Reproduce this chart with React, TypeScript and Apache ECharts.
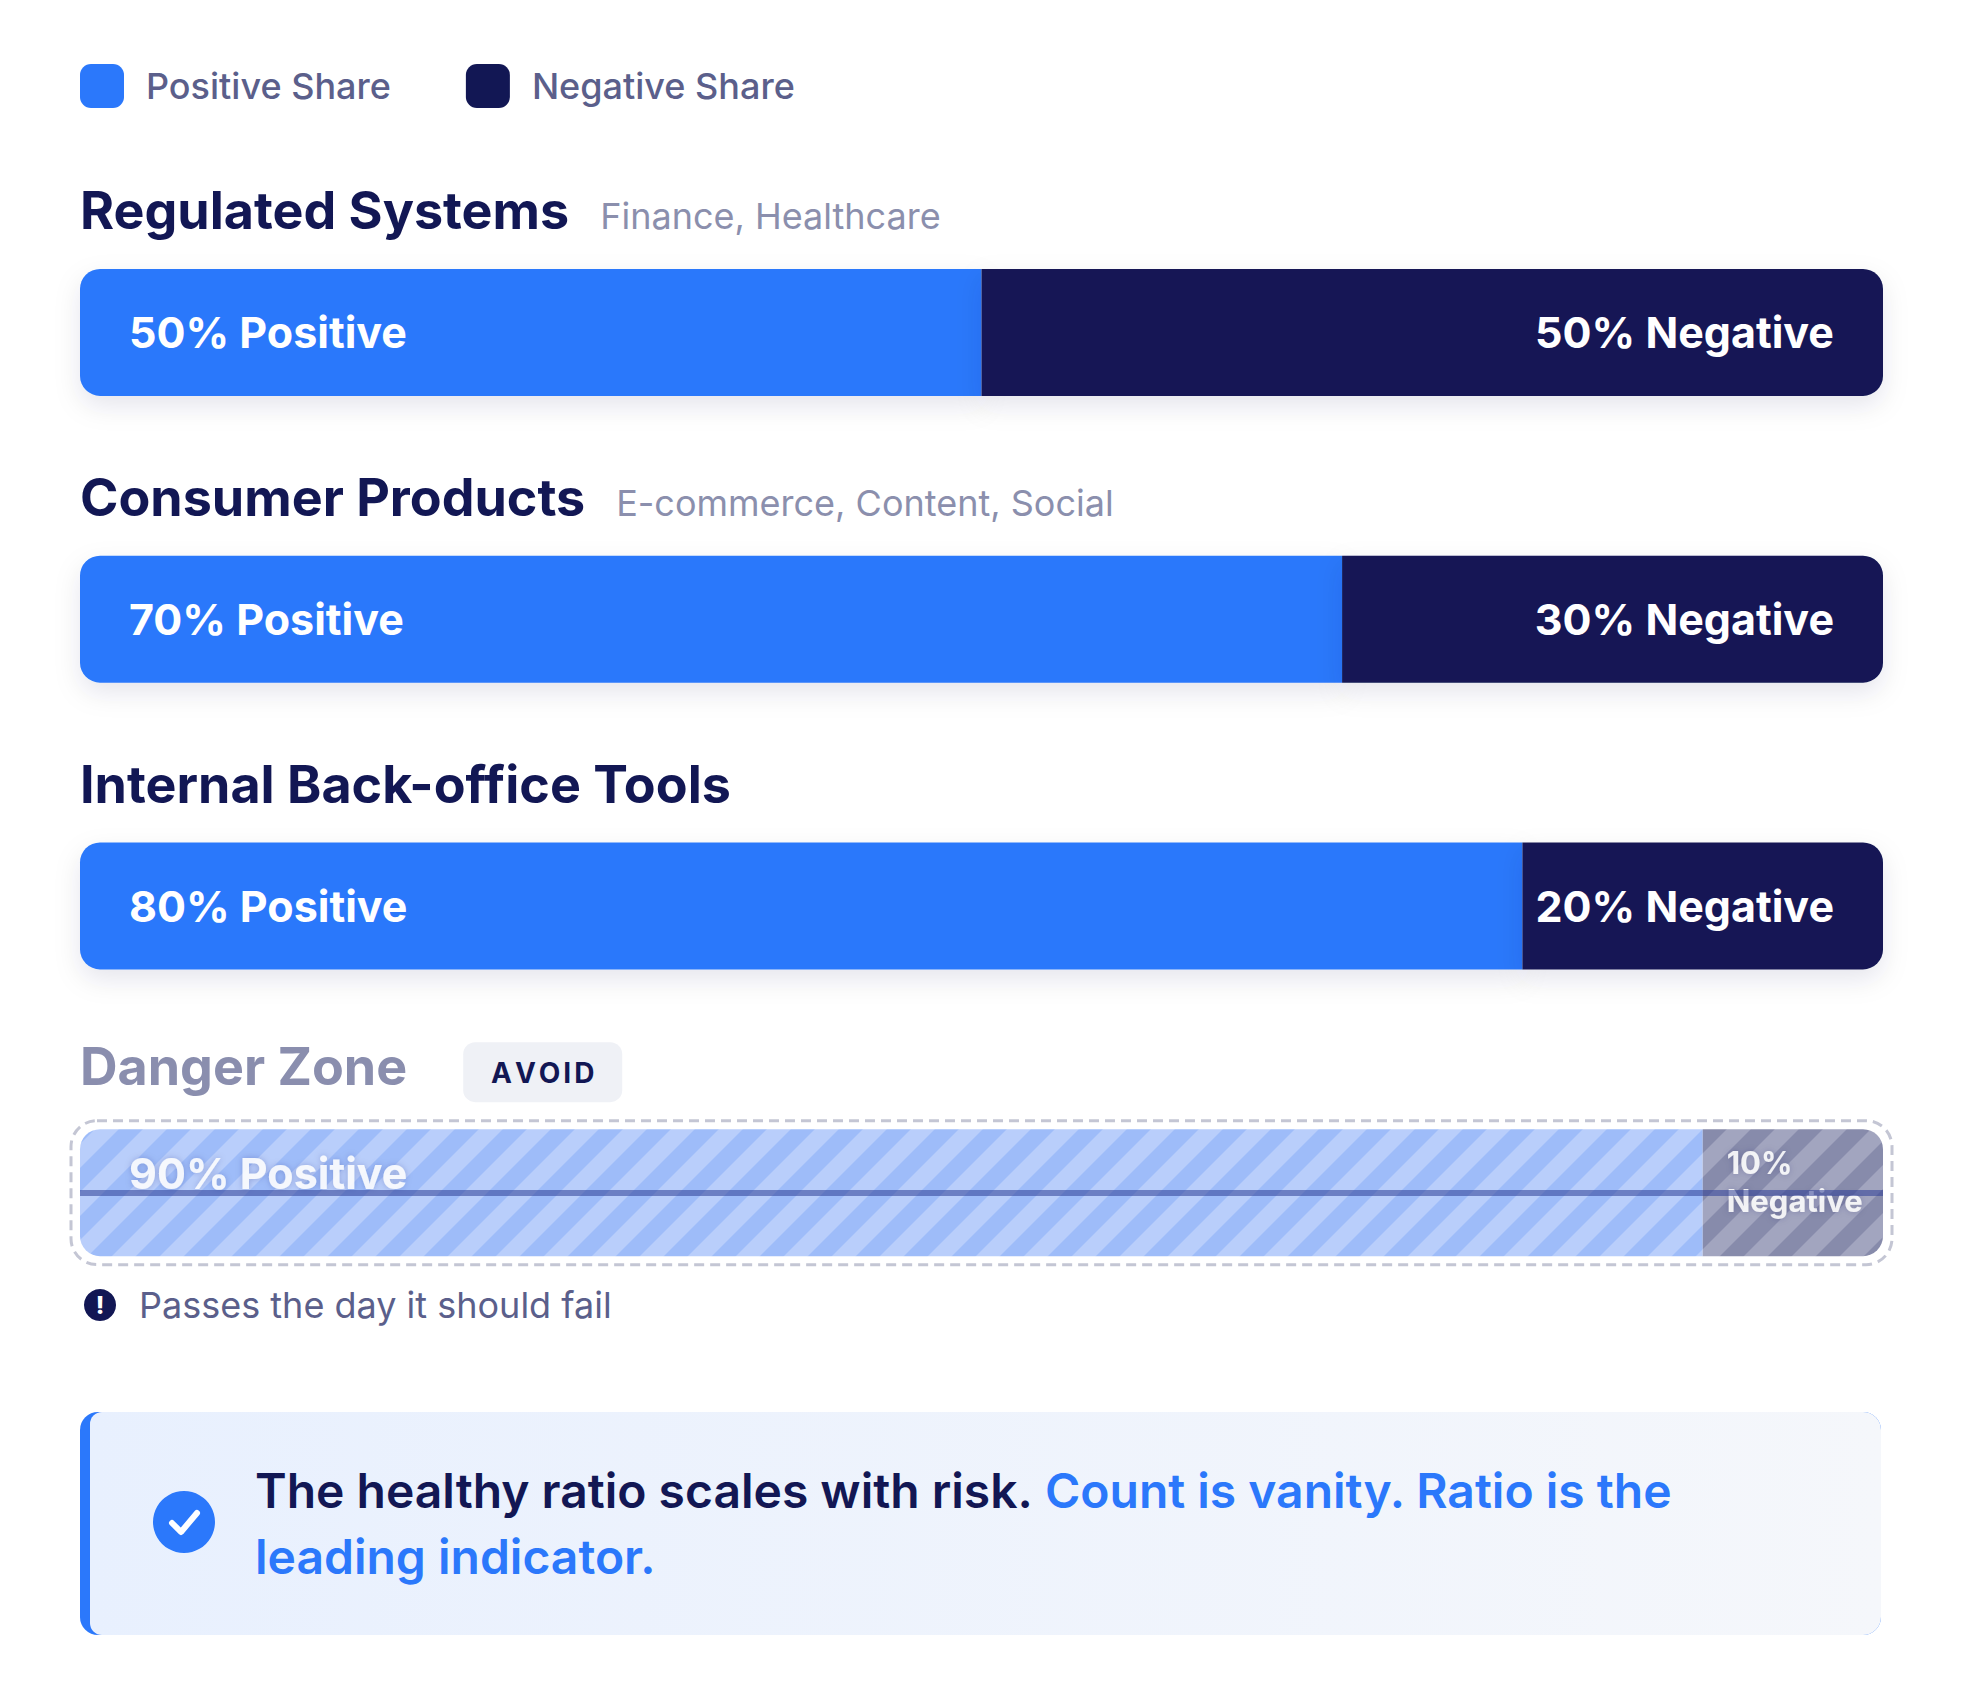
import * as echarts from 'echarts';
import { useEffect, useRef } from 'react';

const FONT = 'Inter, "Noto Sans", sans-serif';
const BLUE = '#2b78fb';
const NAVY = '#121754';

// 각 행: 카테고리 / 부제 / 비율
const categories = ['Regulated Systems', 'Consumer Products', 'Internal Back-office Tools', 'Danger Zone'];
const subtitles = ['Finance, Healthcare', 'E-commerce, Content, Social', '', ''];
const positiveShare = [50, 70, 80, 90];
const negativeShare = [50, 30, 20, 10];
const avoidRow = [false, false, false, true];
const seriesNames = ['Positive Share', 'Negative Share'];

// 사선 줄무늬 타일 (canvas pattern)
function stripePattern(base: string, stripe: string) {
  const P = 48;
  const c = document.createElement('canvas');
  c.width = P;
  c.height = P;
  const g = c.getContext('2d')!;
  g.fillStyle = base;
  g.fillRect(0, 0, P, P);
  g.fillStyle = stripe;
  g.beginPath();
  g.moveTo(0, 0);
  g.lineTo(P / 2, 0);
  g.lineTo(0, P / 2);
  g.closePath();
  g.fill();
  g.beginPath();
  g.moveTo(P, 0);
  g.lineTo(P, P / 2);
  g.lineTo(P / 2, P);
  g.lineTo(0, P);
  g.closePath();
  g.fill();
  return { image: c, repeat: 'repeat', imageWidth: P, imageHeight: P };
}

function measure(text: string, font: string) {
  const ctx = document.createElement('canvas').getContext('2d')!;
  ctx.font = font;
  return ctx.measureText(text).width;
}

export default function App() {
  const chartRef = useRef<HTMLDivElement>(null);

  useEffect(() => {
    if (!chartRef.current) return;
    const chart = echarts.init(chartRef.current, null, { renderer: 'svg' });

    const barShadow = { shadowColor: 'rgba(18, 23, 84, 0.10)', shadowBlur: 26, shadowOffsetY: 10 };
    const noShadow = { shadowColor: 'rgba(0,0,0,0)', shadowBlur: 0, shadowOffsetY: 0 };
    const fadedLabel = {
      color: 'rgba(255,255,255,0.88)',
      textShadowColor: 'rgba(20,30,90,0.25)',
      textShadowBlur: 6,
    };

    chart.setOption({
      animation: false,
      backgroundColor: '#ffffff',
      textStyle: { fontFamily: FONT },
      legend: {
        left: 80,
        top: 64,
        padding: 0,
        itemWidth: 44,
        itemHeight: 44,
        itemGap: 75,
        icon: 'roundRect',
        selectedMode: false,
        data: seriesNames,
        textStyle: { fontSize: 36, fontWeight: 500, color: '#5b5f8b', padding: [0, 0, 0, 17], fontFamily: FONT },
      },
      grid: { left: 80, right: 79, top: 189, bottom: 348 },
      xAxis: { type: 'value', min: 0, max: 100, show: false },
      yAxis: { type: 'category', inverse: true, data: categories, show: false },
      series: [
        {
          name: seriesNames[0],
          type: 'bar',
          stack: 'share',
          barWidth: 127,
          itemStyle: { color: BLUE, borderRadius: [20, 0, 0, 20], ...barShadow },
          label: {
            show: true,
            position: 'insideLeft',
            distance: 49,
            color: '#fff',
            fontSize: 43,
            fontWeight: 700,
            fontFamily: FONT,
            formatter: (p: any) => `${p.value}% Positive`,
          },
          data: positiveShare.map((v, i) =>
            avoidRow[i]
              ? {
                  value: v,
                  itemStyle: { color: stripePattern('#b9cefb', '#9ebcf9'), ...noShadow },
                  label: { ...fadedLabel, offset: [0, -20] },
                }
              : v
          ),
        },
        {
          name: seriesNames[1],
          type: 'bar',
          stack: 'share',
          barWidth: 127,
          itemStyle: { color: NAVY, borderRadius: [0, 20, 20, 0], ...barShadow },
          label: {
            show: true,
            position: 'insideRight',
            distance: 49,
            color: '#fff',
            fontSize: 43,
            fontWeight: 700,
            fontFamily: FONT,
            formatter: (p: any) => `${p.value}% Negative`,
          },
          data: negativeShare.map((v, i) =>
            avoidRow[i]
              ? {
                  value: v,
                  itemStyle: { color: stripePattern('#a2a5bf', '#878bab'), ...noShadow },
                  label: {
                    ...fadedLabel,
                    position: 'insideLeft',
                    distance: 24,
                    fontSize: 31,
                    lineHeight: 38,
                    width: 165,
                    overflow: 'break',
                    offset: [0, -11],
                  },
                }
              : v
          ),
          markLine: {
            silent: true,
            symbol: ['none', 'none'],
            label: { show: false },
            lineStyle: { color: 'rgba(45, 62, 150, 0.55)', width: 6, type: 'solid' },
            emphasis: { disabled: true },
            data: categories.filter((_, i) => avoidRow[i]).map((c) => ({ yAxis: c })),
          },
        },
      ],
    });

    // 제목·배지·주석은 축 좌표에서 위치를 얻어 graphic 으로 그림
    const titleFont = `700 52px Inter`;
    const graphics: any[] = [];
    categories.forEach((cat, i) => {
      const [x0, yc] = chart.convertToPixel({ gridIndex: 0 }, [0, cat]) as number[];
      const [x1] = chart.convertToPixel({ gridIndex: 0 }, [100, cat]) as number[];
      const danger = avoidRow[i];
      const ty = yc - (danger ? 126.5 : 121.5);
      const tw = measure(cat, titleFont);
      graphics.push({
        type: 'text',
        x: x0,
        y: ty,
        style: { text: cat, font: titleFont, fill: danger ? '#8a8eae' : NAVY, verticalAlign: 'middle' },
      });
      if (subtitles[i]) {
        graphics.push({
          type: 'text',
          x: x0 + tw + 31,
          y: ty + 5,
          style: { text: subtitles[i], font: `400 36px Inter`, fill: '#8b8fad', verticalAlign: 'middle' },
        });
      }
      if (danger) {
        const bx = x0 + tw + 56;
        graphics.push(
          { type: 'rect', shape: { x: bx, y: ty - 24, width: 159, height: 60, r: 12 }, style: { fill: '#eff1f6' } },
          {
            type: 'text',
            x: bx + 79.5,
            y: ty + 7,
            style: {
              text: 'AVOID'.split('').map((ch) => `{l|${ch}}`).join(''),
              align: 'center',
              verticalAlign: 'middle',
              rich: { l: { fontFamily: 'Inter', fontSize: 28, fontWeight: 700, fill: NAVY, color: NAVY, padding: [0, 1.5, 0, 1.5] } },
            },
          },
          {
            type: 'rect',
            z: -1,
            shape: { x: x0 - 9, y: yc - 72, width: x1 - x0 + 18, height: 144, r: 26 },
            style: { fill: 'none', stroke: '#c4c6d4', lineWidth: 3, lineDash: [10, 6] },
          },
          { type: 'circle', shape: { cx: x0 + 20, cy: yc + 112.5, r: 16 }, style: { fill: NAVY } },
          {
            type: 'text',
            x: x0 + 20,
            y: yc + 113,
            style: { text: '!', font: `800 24px Inter`, fill: '#fff', align: 'center', verticalAlign: 'middle' },
          },
          {
            type: 'text',
            x: x0 + 59,
            y: yc + 112.5,
            style: { text: 'Passes the day it should fail', font: `400 36px Inter`, fill: '#5b5f8b', verticalAlign: 'middle' },
          }
        );
      }
    });

    // 하단 안내 박스
    graphics.push(
      { type: 'rect', shape: { x: 80, y: 1412, width: 1801, height: 223, r: 18 }, style: { fill: BLUE } },
      {
        type: 'rect',
        shape: { x: 90, y: 1412, width: 1791, height: 223, r: [12, 18, 18, 12] },
        style: {
          fill: new echarts.graphic.LinearGradient(0, 0, 1, 0, [
            { offset: 0, color: '#e8f0fe' },
            { offset: 1, color: '#f5f7fb' },
          ]),
        },
      },
      { type: 'circle', shape: { cx: 184, cy: 1522, r: 31 }, style: { fill: BLUE } },
      {
        type: 'polyline',
        shape: { points: [[172, 1523], [181, 1532], [197, 1513]] },
        style: { stroke: '#fff', lineWidth: 6, lineCap: 'round', lineJoin: 'round', fill: 'none' },
      },
      {
        type: 'text',
        x: 255,
        y: 1457,
        style: {
          text: '{a|The healthy ratio scales with risk. }{b|Count is vanity. Ratio is the}\n{b|leading indicator.}',
          verticalAlign: 'top',
          rich: {
            a: { fontFamily: 'Inter', fontSize: 48, fontWeight: 600, lineHeight: 66, fill: NAVY, color: NAVY },
            b: { fontFamily: 'Inter', fontSize: 48, fontWeight: 600, lineHeight: 66, fill: BLUE, color: BLUE },
          },
        },
      }
    );

    chart.setOption({ graphic: graphics });

    return () => chart.dispose();
  }, []);

  return (
    <div
      ref={chartRef}
      style={{ position: 'absolute', left: 0, top: 0, width: 1962, height: 1684, background: '#fff' }}
    />
  );
}
